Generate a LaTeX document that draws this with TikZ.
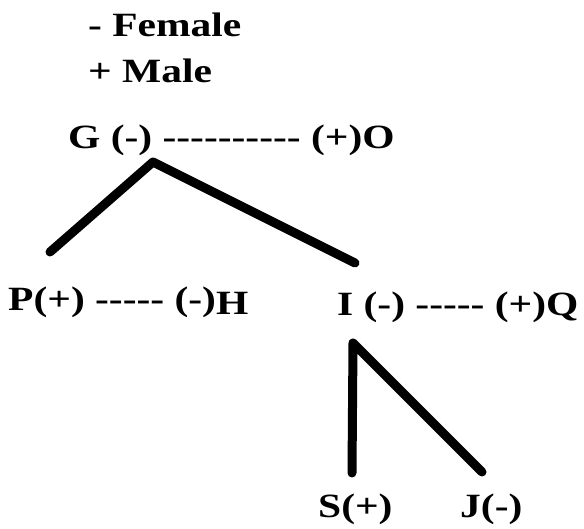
\documentclass[tikz,border=0pt]{standalone}
\usepackage{fontspec}
\setmainfont{Liberation Serif}[Ligatures=TeXOff,FakeStretch=1.22]
\begin{document}
\begin{tikzpicture}[x=1pt,y=1pt,
  lbl/.style={anchor=base west,inner sep=0pt,font=\fontsize{34}{36}\selectfont\bfseries},
  link/.style={line width=9pt,line cap=round,line join=round}]
\useasboundingbox[fill=white] (0,0) rectangle (584,529);
\node[lbl] (fem) at (88,492) {- Female};
\node[lbl] (mal) at (88,446) {+ Male};
\node[lbl] (g) at (68,380) {G (-) ---------- (+)O};
\node[lbl] (p) at (8,218) {P(+) ----- (-)\raisebox{-4pt}{H}};
\node[lbl] (i) at (337,213) {I (-) ----- (+)Q};
\node[lbl] (s) at (318,11) {S(+)};
\node[lbl] (j) at (460,11) {J(-)};
\coordinate (gtop) at (153,367);
\coordinate (pend) at (50,277);
\coordinate (iend) at (355,266);
\coordinate (itop) at (353,186);
\coordinate (send) at (352,56);
\coordinate (jend) at (482,57);
\draw[link] (pend) -- (gtop) -- (iend);
\draw[link] (send) -- (itop) -- (jend);
\end{tikzpicture}
\end{document}
